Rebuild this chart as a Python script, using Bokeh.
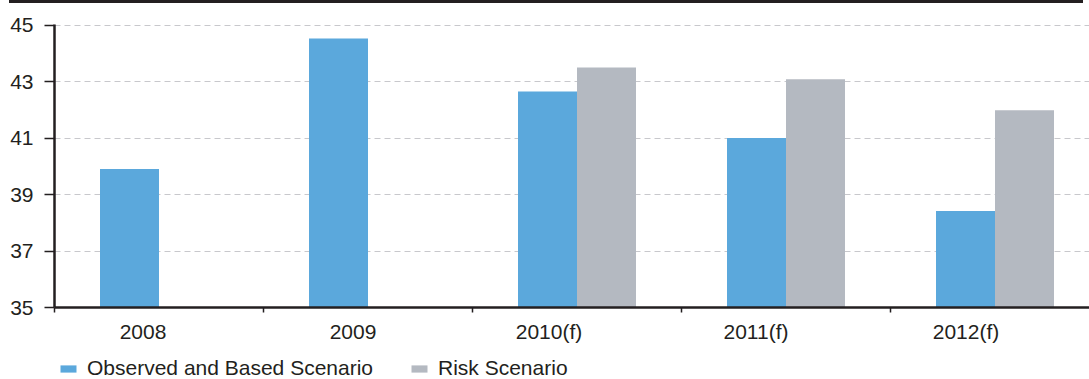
from bokeh.plotting import figure
from bokeh.layouts import column
from bokeh.models import (ColumnDataSource, FixedTicker, Legend, LegendItem, Range1d, Div)
from bokeh.embed import file_html
from bokeh.resources import INLINE

# ---- data ----
categories = ["2008", "2009", "2010(f)", "2011(f)", "2012(f)"]
observed = [39.9, 44.52, 42.65, 41.0, 38.42]
risk_categories = ["2010(f)", "2011(f)", "2012(f)"]
risk = [43.5, 43.08, 41.98]
y_ticks = [35, 37, 39, 41, 43, 45]
series_names = ["Observed and Based Scenario", "Risk Scenario"]

# ---- style ----
BLUE = "#5BA8DC"
GREY = "#B4B9C1"
DARK = "#231F20"
GRID = "#C8C8CC"
FONT = "Liberation Sans"
FS = "21px"

W = 1089
RULE_H = 3
MAIN_H = 342
LEG_H = 379 - RULE_H - MAIN_H
LEFT, TOP, BOTTOM = 54, 21, 37
px_per_cat = 209.0
x_end = (W - LEFT) / px_per_cat
bw = 59.0 / px_per_cat

idx = {c: i for i, c in enumerate(categories)}
src_obs = ColumnDataSource(dict(x=[idx[c] + 0.5 - bw / 2 for c in categories], top=observed))
src_risk = ColumnDataSource(dict(x=[idx[c] + 0.5 + bw / 2 for c in risk_categories], top=risk))

p = figure(width=W, height=MAIN_H, output_backend="svg", toolbar_location=None,
           x_range=Range1d(0, x_end), y_range=Range1d(35, 45.02),
           min_border_left=LEFT, min_border_top=TOP, min_border_bottom=BOTTOM,
           min_border_right=0)
p.outline_line_color = None
p.background_fill_color = "white"
p.border_fill_color = "white"

r_obs = p.vbar(x="x", top="top", bottom=35, width=bw, source=src_obs,
               fill_color=BLUE, line_color=None)
r_risk = p.vbar(x="x", top="top", bottom=35, width=bw, source=src_risk,
                fill_color=GREY, line_color=None)

# grid
p.xgrid.visible = False
p.ygrid.ticker = FixedTicker(ticks=y_ticks)
p.ygrid.grid_line_color = GRID
p.ygrid.grid_line_dash = "6 4"
p.ygrid.grid_line_width = 1

# y axis
ya = p.yaxis[0]
ya.ticker = FixedTicker(ticks=y_ticks)
ya.axis_line_color = DARK
ya.axis_line_width = 2.5
ya.major_tick_line_color = DARK
ya.major_tick_line_width = 1.5
ya.major_tick_out = 10
ya.major_tick_in = 0
ya.minor_tick_line_color = None
ya.major_label_standoff = 11
ya.major_label_text_font = FONT
ya.major_label_text_font_size = FS
ya.major_label_text_color = DARK

# x axis: labels at (slightly left-shifted) centres, ticks at category boundaries
label_shift_px = [16, 15, 28, 30, 29]
label_pos = [i + 0.5 - s / px_per_cat for i, s in enumerate(label_shift_px)]
xa = p.xaxis[0]
xa.ticker = FixedTicker(ticks=label_pos, minor_ticks=list(range(len(categories))))
xa.major_label_overrides = {pos: c for pos, c in zip(label_pos, categories)}
xa.axis_line_color = DARK
xa.axis_line_width = 2.5
xa.major_tick_line_color = None
xa.major_tick_out = 0
xa.major_tick_in = 0
xa.minor_tick_line_color = DARK
xa.minor_tick_line_width = 1.5
xa.minor_tick_out = 5
xa.minor_tick_in = 0
xa.major_label_standoff = 7
xa.major_label_text_font = FONT
xa.major_label_text_font_size = FS
xa.major_label_text_color = DARK

# legend strip below the chart (its frame is aligned with the chart frame)
leg = figure(width=W, height=LEG_H, output_backend="svg", toolbar_location=None,
             min_border=0, x_axis_type=None, y_axis_type=None,
             x_range=Range1d(0, 1), y_range=Range1d(0, 1))
leg.outline_line_color = None
leg.grid.visible = False
# proxy renderers (kept outside the visible range) that give the legend its swatches
l_obs = leg.vbar(x=[-5], top=[-5], bottom=-6, width=0.1, fill_color=BLUE, line_color=None)
l_risk = leg.vbar(x=[-5], top=[-5], bottom=-6, width=0.1, fill_color=GREY, line_color=None)
legend = Legend(items=[LegendItem(label=series_names[0], renderers=[l_obs]),
                       LegendItem(label=series_names[1], renderers=[l_risk])],
                orientation="horizontal", location=(4, -1),
                glyph_width=20, glyph_height=9, label_standoff=9, spacing=36,
                padding=0, margin=0, border_line_color=None,
                background_fill_alpha=0, label_text_font=FONT,
                label_text_font_size=FS, label_text_color=DARK)
leg.add_layout(legend, "center")

# thin dark rule across the top of the chart
rule = Div(text="", width=1074, height=RULE_H, margin=(0, 0, 0, 9),
           styles={"background-color": DARK})

layout = column(rule, p, leg, spacing=0)
open("out.html", "w").write(file_html(layout, INLINE))
